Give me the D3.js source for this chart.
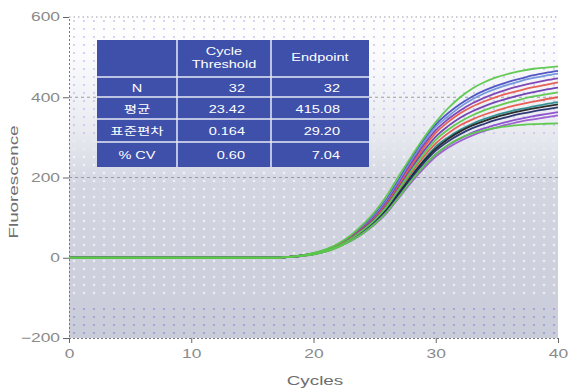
<!DOCTYPE html>
<html><head><meta charset="utf-8">
<script src="https://cdn.jsdelivr.net/npm/d3@7/dist/d3.min.js"></script>
<style>
html,body{margin:0;padding:0;background:#fff;}
text{font-family:"Liberation Sans",Arial,"Noto Sans CJK KR",sans-serif;}
</style></head><body>
<svg id="chart" width="568" height="390"></svg>
<script>
// ---- data ----
const cycles = [0,17,18,19,20,21,22,23,24,25,26,27,28,29,30,31,32,33,34,35,36,37,38,39,40];
const xTicks = [0,10,20,30,40];
const yTicks = [-200,0,200,400,600];
const seriesColors = ["#4b4fc4","#6f94dc","#7b3fb4","#e8574c","#6a3cb0","#e8574c","#2a8c8c","#222222","#26306e","#8a4ccc","#9b5ad0","#5bc84a","#5bc84a","#5bc84a"];
const s_navy   = [0,0,2,6,11,20,33,52,78,108,147,196,246,292,332,360,383,402,417,429,439,447,455,461,466];
const s_lblue  = [0,0,2,5,11,20,33,51,76,105,143,191,241,287,326,352,376,395,410,422,432,441,448,454,459];
const s_purpA  = [0,0,2,5,11,19,32,50,74,102,139,186,235,280,318,345,367,385,399,411,421,429,436,442,447];
const s_redA   = [0,0,2,5,10,19,31,48,72,99,135,181,229,273,311,338,360,377,390,401,410,418,425,431,437];
const s_purpB  = [0,0,2,5,10,18,30,47,70,96,131,176,222,265,302,328,349,365,378,389,398,406,413,419,424];
const s_redB   = [0,0,2,5,10,17,29,45,66,92,125,168,211,251,285,310,330,345,357,367,376,383,389,395,400];
const s_teal   = [0,0,2,5,9,17,28,44,65,90,122,163,205,243,277,300,319,334,346,356,364,371,377,383,388];
const s_black  = [0,0,2,5,9,17,28,44,64,89,120,161,202,240,272,296,315,330,341,351,359,366,372,377,382];
const s_dnavy  = [0,0,2,5,9,17,28,43,63,88,118,158,198,235,267,290,308,323,334,344,352,359,365,370,375];
const s_purpC  = [0,0,2,4,9,16,27,42,61,85,115,153,192,227,258,280,297,312,323,332,340,347,353,358,363];
const s_viol   = [0,0,2,4,9,16,27,41,60,83,112,150,188,222,252,274,291,305,316,325,333,340,345,350,355];
const s_greenM = [0,0,2,5,10,18,29,46,68,94,128,172,217,258,294,319,339,355,368,378,387,395,402,407,412];
const s_greenL = [0,0,2,4,8,15,26,41,60,84,114,152,192,228,258,281,298,310,318,324,328,331,333,334,335];
const s_greenT = [0,0,2,6,12,21,35,55,82,114,155,205,252,298,338,372,400,422,438,450,459,466,471,474,477];
const allSeries = [s_navy,s_lblue,s_purpA,s_redA,s_purpB,s_redB,s_teal,s_black,s_dnavy,s_purpC,s_viol,s_greenM,s_greenL,s_greenT];

const tableRowLabels = ["N","평균","표준편차","% CV"];
const tableCt = ["32","23.42","0.164","0.60"];
const tableEnd = ["32","415.08","29.20","7.04"];

// ---- layout ----
const svg = d3.select("#chart");
const x = d3.scaleLinear().domain([0,40]).range([69,558]);
const y = d3.scaleLinear().domain([-200,600]).range([338,17]);
const STRETCH = 1.45;

const defs = svg.append("defs");
const grad = defs.append("linearGradient").attr("id","bg").attr("x1",0).attr("y1",0).attr("x2",0).attr("y2",1);
[[0,"#ffffff"],[0.12,"#fbfbfd"],[0.35,"#e9ebf1"],[0.52,"#d3d6e1"],[1,"#c9ccd9"]].forEach(([o,c])=>grad.append("stop").attr("offset",o).attr("stop-color",c));
function dotPattern(id, color, r, op){
  const p = defs.append("pattern").attr("id",id).attr("patternUnits","userSpaceOnUse").attr("width",10).attr("height",8).attr("x",69).attr("y",17);
  p.append("circle").attr("cx",5).attr("cy",4).attr("r",r).attr("fill",color).attr("opacity",op);
}
dotPattern("dLav","#b9b6e6",1.1,0.75);
dotPattern("dWhite","#ffffff",1.3,0.6);
dotPattern("dPurp","#9288d4",1.1,0.75);

const pw = x(40)-x(0);
svg.append("rect").attr("x",x(0)).attr("y",y(600)).attr("width",pw).attr("height",y(-200)-y(600)).attr("fill","url(#bg)");
svg.append("rect").attr("x",x(0)).attr("y",y(600)).attr("width",pw).attr("height",y(260)-y(600)).attr("fill","url(#dLav)");
svg.append("rect").attr("x",x(0)).attr("y",y(300)).attr("width",pw).attr("height",y(-100)-y(300)).attr("fill","url(#dWhite)");
svg.append("rect").attr("x",x(0)).attr("y",y(-110)).attr("width",pw).attr("height",y(-200)-y(-110)).attr("fill","url(#dPurp)");

// grid lines
svg.append("g").selectAll("line").data([200,400,600]).join("line")
  .attr("x1",x(0)).attr("x2",x(40)).attr("y1",d=>y(d)).attr("y2",d=>y(d))
  .attr("stroke","#9a9aa6").attr("stroke-width",1).attr("stroke-dasharray",d=>d===600?"1.5,3":"3,3");

// axes
const yAxis = svg.append("g").attr("transform",`translate(${x(0)},0)`)
  .call(d3.axisLeft(y).tickValues(yTicks).tickSize(6).tickPadding(3).tickFormat(d3.format("d")));
const xAxis = svg.append("g").attr("transform",`translate(0,${y(-200)})`)
  .call(d3.axisBottom(x).tickValues(xTicks).tickSize(5).tickPadding(6));
[yAxis,xAxis].forEach(g=>{
  g.select(".domain").attr("stroke","#777").attr("stroke-dasharray","2,2");
  g.selectAll(".tick line").attr("stroke","#666");
  g.selectAll("text").attr("fill","#8a8a8a").style("font-size","12px");
});

// curves
const line = d3.line().x((d,i)=>x(cycles[i])).y(d=>y(d)).curve(d3.curveMonotoneX);
svg.append("g").selectAll("path").data(allSeries).join("path")
  .attr("d",line).attr("fill","none")
  .attr("stroke",(d,i)=>seriesColors[i]).attr("stroke-width",1.8).attr("opacity",0.95);

// axis titles
svg.append("text").attr("x",315).attr("y",385).attr("text-anchor","middle")
  .attr("fill","#6e6e6e").style("font-size","13px").text("Cycles");
svg.append("text").attr("transform","translate(18,182) rotate(-90)").attr("text-anchor","middle")
  .attr("fill","#6e6e6e").style("font-size","13px").text("Fluorescence");

// table
const tx = [97,177,271,369];
const ty = [40,77,97,119,142,167];
const tg = svg.append("g");
tg.append("rect").attr("x",tx[0]).attr("y",ty[0]).attr("width",tx[3]-tx[0]).attr("height",ty[5]-ty[0]).attr("fill","#3e50aa");
tg.selectAll("line.v").data([tx[1],tx[2]]).join("line").attr("x1",d=>d).attr("x2",d=>d).attr("y1",ty[0]).attr("y2",ty[5]).attr("stroke","#e8eaf4").attr("stroke-width",1.5);
tg.selectAll("line.h").data(ty.slice(1,5)).join("line").attr("x1",tx[0]).attr("x2",tx[3]).attr("y1",d=>d).attr("y2",d=>d).attr("stroke","#e8eaf4").attr("stroke-width",1.5);
const tStyle = s=>s.attr("fill","#ffffff").style("font-size","10px").attr("dominant-baseline","central");
tStyle(tg.append("text").attr("x",(tx[1]+tx[2])/2).attr("y",51).attr("text-anchor","middle").text("Cycle"));
tStyle(tg.append("text").attr("x",(tx[1]+tx[2])/2).attr("y",64).attr("text-anchor","middle").text("Threshold"));
tStyle(tg.append("text").attr("x",(tx[2]+tx[3])/2).attr("y",57).attr("text-anchor","middle").text("Endpoint"));
tableRowLabels.forEach((lab,i)=>{
  const cy = (ty[i+1]+ty[i+2])/2 + 1;
  tStyle(tg.append("text").attr("x",(tx[0]+tx[1])/2).attr("y",cy).attr("text-anchor","middle").text(lab));
  tStyle(tg.append("text").attr("x",tx[2]-26).attr("y",cy).attr("text-anchor","end").text(tableCt[i]));
  tStyle(tg.append("text").attr("x",tx[3]-29).attr("y",cy).attr("text-anchor","end").text(tableEnd[i]));
});

// horizontal stretch of all texts to mimic the reference's wide lettering
svg.selectAll("text").each(function(){
  const w = this.getComputedTextLength();
  if (w>0) d3.select(this).attr("textLength", w*STRETCH).attr("lengthAdjust","spacingAndGlyphs");
});
</script>
</body></html>
